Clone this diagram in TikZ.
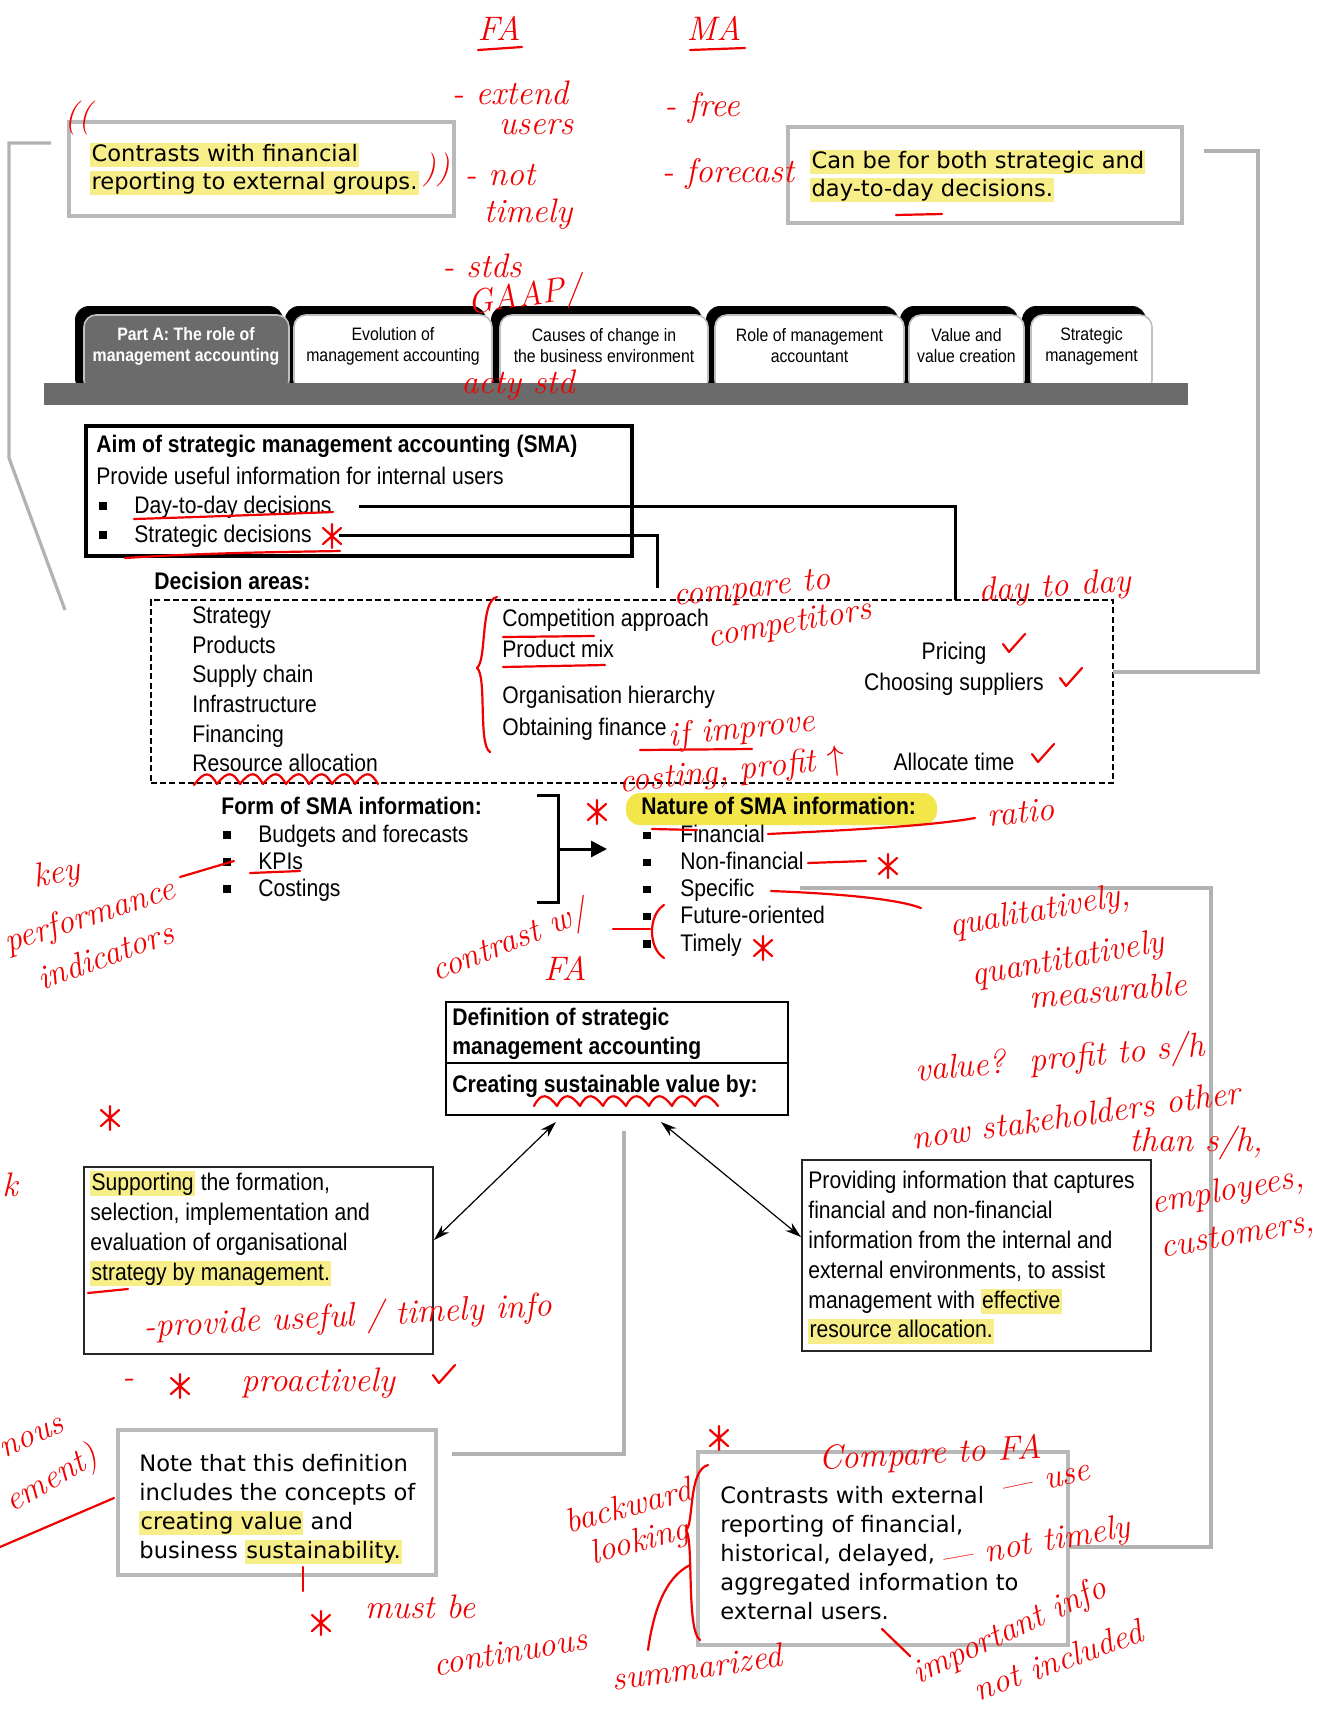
\documentclass[tikz,border=0pt]{standalone}
\usepackage{fontspec}
\usepackage{tikz}
\usetikzlibrary{arrows.meta,positioning,calc,fit}
\newfontfamily\narrowfont{Liberation Sans}[FakeStretch=0.88]
\newfontfamily\verdfont{DejaVu Sans}
\definecolor{hlyellow}{HTML}{F7EE8A}
\definecolor{natyellow}{HTML}{F2E64A}
\definecolor{tabgray}{HTML}{6B6B6B}
\definecolor{inkred}{HTML}{F00000}
\newcommand\hl[1]{{\setlength\fboxsep{0.6pt}\colorbox{hlyellow}{\rule[-2.6pt]{0pt}{10.4pt}#1}}}
\tikzstyle{graybox}=[draw=gray!55,line width=2.2pt,inner sep=0pt]
\tikzstyle{blackbox}=[draw=black,line width=1.4pt,inner sep=0pt]
\tikzstyle{txt}=[anchor=base west,inner sep=0pt,font=\narrowfont\fontsize{12}{15}\selectfont]
\tikzstyle{btxt}=[anchor=base west,inner sep=0pt,font=\narrowfont\bfseries\fontsize{12}{15}\selectfont]
\tikzstyle{vtxt}=[anchor=base west,inner sep=0pt,font=\verdfont\fontsize{11.3}{14}\selectfont]
\tikzstyle{tabtxt}=[align=center,inner sep=0pt,font=\narrowfont\fontsize{9}{10.5}\selectfont]
\tikzstyle{tabshape}=[draw=gray!50,fill=white,line width=0.8pt,rounded corners=6pt,inner sep=0pt]
\tikzstyle{bullet}=[fill=black,inner sep=0pt,minimum size=3.6pt]
\tikzstyle{heavy}=[line width=1.5pt]
\tikzstyle{grayline}=[draw=gray!60,line width=1.6pt]
\tikzstyle{thinarrow}=[line width=0.6pt,{Stealth[length=8pt,width=5pt]}-{Stealth[length=8pt,width=5pt]}]
\tikzstyle{hand}=[text=inkred,inner sep=0pt,font=\fontsize{17}{19}\selectfont\itshape]
\tikzstyle{ink}=[draw=inkred,line width=1.1pt,line cap=round,line join=round]
\newcommand\inkstar[1]{\draw[ink,shift={(#1)}] (0,-12) -- (0,12) (-9,-8) -- (9,8) (-9,8) -- (9,-8);}
\newcommand\inktick[1]{\draw[ink,shift={(#1)}] (-8,-2) -- (-2,6) -- (14,-12);}

\begin{document}
\begin{tikzpicture}[x=0.5pt,y=-0.5pt]
\useasboundingbox (0,0) rectangle (1327,1709);
\fill[white] (0,0) rectangle (1327,1709);

% boxes above the tabs
\node[graybox,fit={(69,122) (454,216)}] (tlbox) {};
\node[vtxt] (tl1) at (90,161) {\hl{Contrasts with financial}};
\node[vtxt] (tl2) at (90,189) {\hl{reporting to external groups.}};
\node[graybox,fit={(788,127) (1182,223)}] (trbox) {};
\node[vtxt] (tr1) at (810,168) {\hl{Can be for both strategic and}};
\node[vtxt] (tr2) at (810,196) {\hl{day-to-day decisions.}};

% tabs
\foreach \a/\b in {84/289,294/492,500/708,715/904,909/1024,1031/1152}
  \fill[black,rounded corners=7pt] (\a-9,306) rectangle (\b-6,392);
\node[tabshape,fill=tabgray,fit={(84,315) (289,392)}] (tab1) {};
\node[tabtxt,text=white,font=\narrowfont\bfseries\fontsize{9}{10.5}\selectfont] (tabtext1) at (186,346) {Part A: The role of\\management accounting};
\foreach \a/\b/\t [count=\i from 2] in {294/492/{Evolution of\\management accounting},
    500/708/{Causes of change in\\the business environment},
    715/904/{Role of management\\accountant},
    909/1024/{Value and\\value creation},
    1031/1152/{Strategic\\management}} {
  \node[tabshape,fit={(\a,315) (\b,392)}] (tab\i) {};
  \node[tabtxt] (tabtext\i) at ({(\a+\b)/2},346) {\t};
}
\fill[tabgray] (44,383) rectangle (1188,405);

% aim box
\node[blackbox,line width=1.8pt,fit={(86,426) (632,556)}] (aimbox) {};
\node[btxt] (aimtitle) at (96,452) {Aim of strategic management accounting (SMA)};
\node[txt] (aimsub) at (96,484) {Provide useful information for internal users};
\node[bullet] (aimb1) at (103,506) {};
\node[txt] (dtd) at (134,513) {Day-to-day decisions};
\node[bullet] (aimb2) at (103,535) {};
\node[txt] (strat) at (134,542) {Strategic decisions};

% decision areas
\node[btxt] (dectitle) at (154,589) {Decision areas:};
\node[draw,line width=1.3pt,dash pattern=on 3pt off 1.6pt,inner sep=0pt,fit={(151,600) (1113,783)}] (decbox) {};
\foreach \t [count=\i] in {Strategy,Products,Supply chain,Infrastructure,Financing,Resource allocation}
  \node[txt] (decl\i) at (192,594+29.6*\i) {\t};
\node[txt] (decm1) at (502,626) {Competition approach};
\node[txt] (decm2) at (502,657) {Product mix};
\node[txt] (decm3) at (502,703) {Organisation hierarchy};
\node[txt] (decm4) at (502,735) {Obtaining finance};
\node[txt,anchor=base] (decr1) at (954,659) {Pricing};
\node[txt,anchor=base] (decr2) at (954,690) {Choosing suppliers};
\node[txt,anchor=base] (decr3) at (954,770) {Allocate time};

% connectors from the aim box
\coordinate (dtdend) at (955,600);
\coordinate (stratend) at (657,588);
\draw[heavy] ($(dtd.east)+(27,0)$) -| (dtdend);
\draw[heavy] ($(strat.east)+(27,0)$) -| (stratend);

% gray links from the top boxes
\coordinate (lstart) at (51,143);
\coordinate (lend) at (65,610);
\draw[grayline] (lstart) -- (9,143) -- (9,458) -- (lend);
\coordinate (rstart) at (1204,151);
\coordinate (rend) at (1113,672);
\draw[grayline] (rstart) -- (1258,151) |- (rend);

% form of SMA information
\node[btxt] (formtitle) at (221,814) {Form of SMA information:};
\foreach \t [count=\i] in {Budgets and forecasts,KPIs,Costings} {
  \node[bullet] (formb\i) at (227,808+27*\i) {};
  \node[txt] (form\i) at (258,815+27*\i) {\t};
}
\draw[heavy] (537,795) -- (558,795) -- (558,902) -- (537,902);
\coordinate (brmid) at (558,849);
\coordinate (arrend) at (607,849);
\draw[heavy,-{Triangle[length=8pt,width=8pt]}] (brmid) -- (arrend);

% nature of SMA information
\node[fill=natyellow,rounded corners=7pt,inner sep=0pt,fit={(626,793) (937,825)}] (nathl) {};
\node[btxt] (nattitle) at (641,814) {Nature of SMA information:};
\foreach \t [count=\i] in {Financial,Non-financial,Specific,Future-oriented,Timely} {
  \node[bullet] (natb\i) at (647,808+27.2*\i) {};
  \node[txt] (nat\i) at (680,815+27.2*\i) {\t};
}

% definition
\node[blackbox,line width=1.3pt,fit={(446,1002) (788,1115)}] (defbox) {};
\draw[line width=1pt] (defbox.west |- 0,1063) -- (defbox.east |- 0,1063);
\node[btxt] (def1) at (452,1025) {Definition of strategic};
\node[btxt] (def2) at (452,1054) {management accounting};
\node[btxt] (def3) at (452,1092) {Creating sustainable value by:};

% two sides
\node[blackbox,line width=1.3pt,draw=black!85,fit={(84,1167) (433,1354)}] (supbox) {};
\foreach \t [count=\i] in {{\hl{Supporting} the formation,},{selection, implementation and},{evaluation of organisational},{\hl{strategy by management.}}}
  \node[txt] (sup\i) at (90,1160+30*\i) {\t};
\node[blackbox,line width=1.3pt,draw=black!85,fit={(802,1160) (1151,1351)}] (probox) {};
\foreach \t [count=\i] in {Providing information that captures,financial and non-financial,information from the internal and,{external environments, to assist},{management with \hl{effective}},{\hl{resource allocation.}}}
  \node[txt] (pro\i) at (808,1159+29.8*\i) {\t};
\coordinate (arrl1) at (556,1122);
\coordinate (arrl2) at (434,1240);
\coordinate (arrr1) at (661,1122);
\coordinate (arrr2) at (801,1237);
\draw[thinarrow] (arrl1) -- (arrl2);
\draw[thinarrow] (arrr1) -- (arrr2);

% notes at the bottom
\coordinate (vtop) at (624,1131);
\coordinate (noteline) at (452,1454);
\draw[grayline] (vtop) |- (noteline);
\node[graybox,fit={(118,1430) (436,1575)}] (notebox) {};
\foreach \t [count=\i] in {Note that this definition,includes the concepts of,{\hl{creating value} and},{business \hl{sustainability.}}}
  \node[vtxt] (note\i) at (139,1442+29*\i) {\t};
\node[graybox,fit={(698,1452) (1068,1645)}] (brbox) {};
\foreach \t [count=\i] in {Contrasts with external,{reporting of financial,},{historical, delayed,},aggregated information to,external users.}
  \node[vtxt] (br\i) at (720,1475+28.8*\i) {\t};
\coordinate (specl) at (800,888);
\draw[grayline] (specl) -- (1211,888) |- (brbox.east |- 0,1547);

% handwritten notes
\foreach \n/\x/\y/\r/\t in {fa/499/28/0/FA, ma/714/28/0/MA, ext/510/93/0/- extend, users/536/127/0/users,
    free/702/108/0/- free, open/78/118/0/((, close/436/170/0/)), not/500/175/0/- not, timely/528/214/0/timely,
    fcst/728/174/0/- forecast, stds/482/266/0/- stds, gaap/525/298/8/{GAAP/}, acty/518/385/0/acty std,
    comp/752/590/6/compare to, compet/790/625/10/competitors, day/1055/588/4/day to day,
    impr/742/730/6/if improve, cost/732/772/6/{costing, profit $\uparrow$}, ratio/1021/812/6/ratio,
    key/57/875/10/key, perf/90/917/18/performance, ind/105/955/20/indicators,
    contr/510/943/22/{contrast w/}, cfa/565/968/0/FA,
    qual/1040/912/10/{qualitatively,}, quant/1068/960/10/quantitatively, meas/1108/990/5/measurable,
    value/1060/1060/5/{value?\ \ profit to s/h}, now/1076/1115/8/now stakeholders other,
    than/1196/1143/0/{than s/h,}, emp/1228/1192/10/{employees,}, cust/1238/1237/10/{customers,},
    prov/348/1318/3/{-provide useful / timely info}, dash/128/1383/0/-, proac/318/1383/0/proactively,
    must/420/1607/0/must be, cont/510/1652/10/continuous, summ/697/1667/8/summarized,
    imp/1010/1632/25/important info, notinc/1058/1660/20/not included,
    back/628/1505/15/backward, look/640/1543/15/looking, cfa2/930/1455/3/Compare to FA,
    use/1045/1482/12/--- use, nott/1035/1545/10/--- not timely,
    nous/32/1438/25/nous, ement/52/1480/30/ement), k/10/1185/0/k}
  \node[hand,rotate=\r] (h\n) at (\x,\y) {\t};
\draw[ink] (478,50) -- (522,47);
\draw[ink] (690,50) -- (745,48);
\draw[ink] (896,215) -- (942,214);
\draw[ink] (134,519) .. controls (200,517) and (280,514) .. (333,512);
\draw[ink] (125,558) .. controls (200,553) and (280,552) .. (340,551);
\draw[ink] (503,637) -- (594,636);
\draw[ink] (503,667) -- (605,665);
\draw[ink] (640,750) -- (752,749);
\draw[ink] (194,785) \foreach \i in {0,...,7} { .. controls (205+23*\i,770) and (210+23*\i,772) .. (217+23*\i,784)};
\draw[ink] (497,597) .. controls (480,600) and (487,660) .. (477,668) .. controls (487,676) and (478,745) .. (490,752);
\draw[ink] (180,877) -- (234,861);
\draw[ink] (250,873) -- (300,871);
\draw[ink] (652,829) -- (697,830);
\draw[ink] (768,834) .. controls (850,830) and (930,826) .. (975,818);
\draw[ink] (808,863) -- (866,861);
\draw[ink] (771,891) .. controls (850,894) and (900,900) .. (921,908);
\draw[ink] (613,929) -- (650,929);
\draw[ink] (664,905) .. controls (648,915) and (648,948) .. (664,958);
\draw[ink] (534,1106) \foreach \i in {0,...,7} { .. controls (541+23*\i,1092) and (548+23*\i,1094) .. (557+23*\i,1106)};
\draw[ink] (88,1293) -- (128,1289);
\draw[ink] (0,1547) -- (114,1498);
\draw[ink] (303,1567) -- (303,1591);
\draw[ink] (648,1650) .. controls (655,1600) and (670,1575) .. (690,1565);
\draw[ink] (708,1465) .. controls (688,1470) and (694,1525) .. (686,1530) .. controls (694,1540) and (686,1630) .. (700,1640);
\draw[ink] (882,1629) -- (910,1656);
\inkstar{110,1118}
\inkstar{332,536}
\inkstar{597,812}
\inkstar{888,866}
\inkstar{763,948}
\inkstar{719,1438}
\inkstar{321,1623}
\inkstar{180,1386}
\inktick{1011,646}
\inktick{1068,680}
\inktick{1040,756}
\inktick{441,1377}
\end{tikzpicture}
\end{document}
